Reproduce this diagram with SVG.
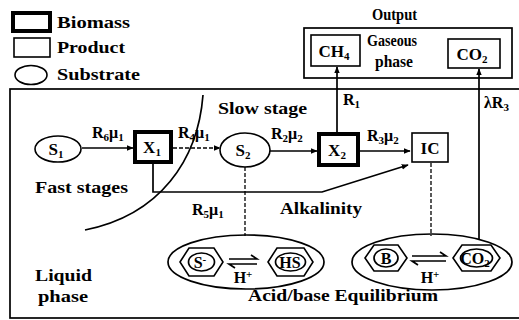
<svg xmlns="http://www.w3.org/2000/svg" width="519" height="320" viewBox="0 0 519 320" font-family="'Liberation Serif', 'DejaVu Serif', serif">
<style>
text{font-family:'Liberation Serif','DejaVu Serif',serif;font-weight:bold;fill:#000;font-size:16px}
.m{text-anchor:middle}
.n{font-size:17px}
.thick{fill:#fff;stroke:#000;stroke-width:4}
.thin{fill:#fff;stroke:#000;stroke-width:1.6}
.ln{fill:none;stroke:#000;stroke-width:1.7}
.dash{fill:none;stroke:#000;stroke-width:1.3;stroke-dasharray:4,2}
.sub{font-size:11px}
</style>
<defs>
<marker id="ah" viewBox="0 0 10 10" refX="9" refY="5" markerWidth="7" markerHeight="7" orient="auto" markerUnits="userSpaceOnUse">
<path d="M0,1 L10,5 L0,9 z" fill="#000"/>
</marker>
</defs>
<rect width="519" height="320" fill="#fff"/>

<g id="legend">
<rect class="thick" x="13" y="13" width="37" height="18"/>
<text x="57" y="28" textLength="73" lengthAdjust="spacingAndGlyphs">Biomass</text>
<rect class="thin" x="14" y="38" width="36" height="19"/>
<text x="57" y="53" textLength="68" lengthAdjust="spacingAndGlyphs">Product</text>
<ellipse class="thin" cx="31" cy="75" rx="16" ry="9.5"/>
<text x="57" y="80" textLength="83" lengthAdjust="spacingAndGlyphs">Substrate</text>
</g>

<g id="liquid-phase">
<rect class="ln" x="10" y="89" width="520" height="229"/>
<text x="35" y="281" textLength="57" lengthAdjust="spacingAndGlyphs">Liquid</text>
<text x="38" y="302" textLength="50" lengthAdjust="spacingAndGlyphs">phase</text>
<text x="35" y="193" textLength="93" lengthAdjust="spacingAndGlyphs">Fast stages</text>
<text x="218" y="114" textLength="89" lengthAdjust="spacingAndGlyphs">Slow stage</text>
</g>

<g id="output">
<rect class="ln" x="304" y="28" width="208" height="50"/>
<text x="372" y="20" textLength="45" lengthAdjust="spacingAndGlyphs">Output</text>
<text x="367" y="46" textLength="50" lengthAdjust="spacingAndGlyphs">Gaseous</text>
<text x="375" y="67" textLength="38" lengthAdjust="spacingAndGlyphs">phase</text>
</g>

<g id="CH4"><rect class="thin" x="311" y="35" width="49" height="31"/><text class="m n" x="334" y="57">CH<tspan class="sub" dy="3">4</tspan></text></g>
<g id="CO2"><rect class="thin" x="448" y="39" width="52" height="29"/><text class="m n" x="472" y="60">CO<tspan class="sub" dy="3">2</tspan></text></g>

<g id="connectors">
<path class="ln" d="M82,148 H133" marker-end="url(#ah)"/>
<path class="dash" d="M173,148 H220" marker-end="url(#ah)"/>
<path class="ln" d="M270,151 H317" marker-end="url(#ah)"/>
<path class="ln" d="M360,151 H410" marker-end="url(#ah)"/>
<path class="ln" stroke-width="2.6" d="M337,132 V67" marker-end="url(#ah)"/>
<path class="ln" stroke-width="2.6" d="M479,240 V69" marker-end="url(#ah)"/>
<path class="ln" d="M153,163 V192 H322 L408,165" marker-end="url(#ah)"/>
<path class="dash" d="M245,167 V236"/>
<path class="dash" d="M431,163 V236"/>
<path class="ln" stroke-width="2" d="M203,95 C198,160 160,215 85,230"/>
<text x="92" y="138">R<tspan class="sub" dy="3">6</tspan><tspan dy="-3">μ</tspan><tspan class="sub" dy="3">1</tspan></text>
<text x="178" y="138">R<tspan class="sub" dy="3">4</tspan><tspan dy="-3">μ</tspan><tspan class="sub" dy="3">1</tspan></text>
<text x="271" y="139">R<tspan class="sub" dy="3">2</tspan><tspan dy="-3">μ</tspan><tspan class="sub" dy="3">2</tspan></text>
<text x="367" y="141">R<tspan class="sub" dy="3">3</tspan><tspan dy="-3">μ</tspan><tspan class="sub" dy="3">2</tspan></text>
<text x="343" y="105">R<tspan class="sub" dy="3">1</tspan></text>
<text x="484" y="108">λR<tspan class="sub" dy="3">3</tspan></text>
<text x="192" y="215">R<tspan class="sub" dy="3">5</tspan><tspan dy="-3">μ</tspan><tspan class="sub" dy="3">1</tspan></text>
<text x="280" y="214" textLength="82" lengthAdjust="spacingAndGlyphs">Alkalinity</text>
</g>

<g id="S1"><ellipse class="thin" cx="58" cy="149" rx="23" ry="13"/><text class="m n" x="56" y="155">S<tspan class="sub" dy="3">1</tspan></text></g>
<g id="X1"><rect class="thick" x="135" y="132" width="36" height="30"/><text class="m n" x="152" y="153">X<tspan class="sub" dy="3">1</tspan></text></g>
<g id="S2"><ellipse class="thin" cx="245" cy="150" rx="25" ry="17"/><text class="m n" x="243" y="156">S<tspan class="sub" dy="3">2</tspan></text></g>
<g id="X2"><rect class="thick" x="319" y="134" width="39" height="31"/><text class="m n" x="337" y="156">X<tspan class="sub" dy="3">2</tspan></text></g>
<g id="IC"><rect class="thin" x="412" y="133" width="36" height="29"/><text class="m n" x="430" y="154">IC</text></g>

<g id="eq-sulfide">
<ellipse class="ln" cx="246" cy="262" rx="78" ry="27"/>
<polygon class="thin" points="180,262 189,248 214,248 223,262 214,276 189,276"/>
<ellipse class="ln" cx="201.5" cy="262" rx="13" ry="9"/>
<text class="m" x="200" y="268">S<tspan class="sub" dy="-5">-</tspan></text>
<polygon class="thin" points="268,262 277,248 304,248 313,262 304,276 277,276"/>
<ellipse class="ln" cx="290.5" cy="262" rx="15" ry="9"/>
<text class="m" x="290" y="268">HS</text>
<path class="ln" d="M229,259 H257 L251,255"/>
<path class="ln" d="M257,264 H229 L235,268"/>
<text class="m" x="243" y="283">H<tspan class="sub" dy="-5">+</tspan></text>
</g>

<g id="eq-carbonate">
<ellipse class="ln" cx="432" cy="262" rx="80" ry="28"/>
<polygon class="thin" points="365,258 374,245 398,245 407,258 398,271 374,271"/>
<ellipse class="ln" cx="386" cy="258" rx="12" ry="9"/>
<text class="m" x="386" y="264">B</text>
<polygon class="thin" points="453,258 462,245 491,245 500,258 491,271 462,271"/>
<ellipse class="ln" cx="476.5" cy="258" rx="16" ry="9"/>
<text class="m" x="475" y="264">CO<tspan class="sub" dy="3">2</tspan></text>
<path class="ln" d="M412,256 H446 L440,252"/>
<path class="ln" d="M446,261 H412 L418,265"/>
<text class="m" x="430" y="283">H<tspan class="sub" dy="-5">+</tspan></text>
<text x="248" y="301" textLength="190" lengthAdjust="spacingAndGlyphs">Acid/base Equilibrium</text>
</g>
</svg>
